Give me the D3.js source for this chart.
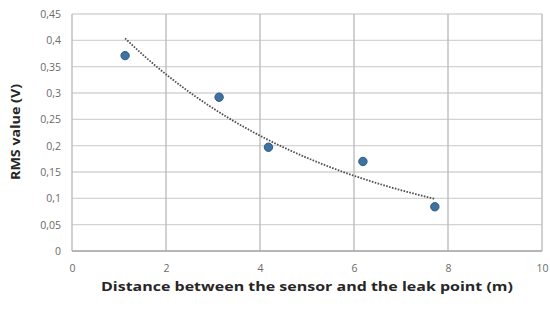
<!DOCTYPE html>
<html><head><meta charset="utf-8">
<script src="https://cdn.jsdelivr.net/npm/d3@7"></script>
<style>body{margin:0;background:#fff}svg{display:block}</style>
</head><body>
<script>
const distance = [1.13, 3.13, 4.18, 6.19, 7.72];
const rms = [0.371, 0.292, 0.197, 0.170, 0.084];
const xTicks = [0, 2, 4, 6, 8, 10];
const yTicks = [0, 0.05, 0.1, 0.15, 0.2, 0.25, 0.3, 0.35, 0.4, 0.45];
const xTitle = "Distance between the sensor and the leak point (m)";
const yTitle = "RMS value (V)";

const W = 550, H = 309;
const svg = d3.select("body").append("svg").attr("width", W).attr("height", H);
const x = d3.scaleLinear().domain([0, 10]).range([72, 542]);
const y = d3.scaleLinear().domain([0, 0.45]).range([251, 14]);
const fmt = d => String(d).replace(".", ",");

// grid
svg.append("g").selectAll("line").data(yTicks).join("line")
  .attr("x1", x(0)).attr("x2", x(10)).attr("y1", d => y(d)).attr("y2", d => y(d))
  .attr("stroke", "#d4d4d4").attr("stroke-width", 1.3);
svg.append("g").selectAll("line").data(xTicks).join("line")
  .attr("y1", y(0)).attr("y2", y(0.45)).attr("x1", d => x(d)).attr("x2", d => x(d))
  .attr("stroke", "#b8b8b8").attr("stroke-width", 1.3);
svg.append("line").attr("x1", x(0)).attr("x2", x(10)).attr("y1", y(0)).attr("y2", y(0))
  .attr("stroke", "#a8a8a8").attr("stroke-width", 1.3);

// axes labels via d3 axes
const yAxis = svg.append("g").attr("transform", `translate(${x(0)},0)`)
  .call(d3.axisLeft(y).tickValues(yTicks).tickFormat(fmt).tickSize(0).tickPadding(11));
yAxis.select(".domain").remove();
yAxis.selectAll("text").attr("font-family", "Open Sans, sans-serif").attr("font-size", 10.5).attr("fill", "#6a6a6a");
const xAxis = svg.append("g").attr("transform", `translate(0,${y(0)})`)
  .call(d3.axisBottom(x).tickValues(xTicks).tickFormat(fmt).tickSize(0).tickPadding(14));
xAxis.select(".domain").remove();
xAxis.selectAll("text").attr("font-family", "Open Sans, sans-serif").attr("font-size", 10.5).attr("fill", "#6a6a6a");

// exponential trendline (least squares on ln y)
const n = distance.length;
const lx = distance, ly = rms.map(Math.log);
const mx = d3.mean(lx), my = d3.mean(ly);
const b = d3.sum(lx.map((v, i) => (v - mx) * (ly[i] - my))) / d3.sum(lx.map(v => (v - mx) ** 2));
const a = Math.exp(my - b * mx);
const tx = d3.range(0, 101).map(i => distance[0] + (distance[n - 1] - distance[0]) * i / 100);
svg.append("path")
  .attr("d", d3.line().x(d => x(d)).y(d => y(a * Math.exp(b * d)))(tx))
  .attr("fill", "none").attr("stroke", "#505050").attr("stroke-width", 1.8)
  .attr("stroke-dasharray", "1.6,1.4");

// points
svg.append("g").selectAll("circle").data(distance).join("circle")
  .attr("cx", d => x(d)).attr("cy", (d, i) => y(rms[i])).attr("r", 4.2)
  .attr("fill", "#3f72a0").attr("stroke", "#2f5a84").attr("stroke-width", 1);

// titles
svg.append("text").attr("x", 307).attr("y", 291).attr("text-anchor", "middle")
  .attr("font-family", "Open Sans, sans-serif").attr("font-weight", "bold").attr("font-size", 12.5)
  .attr("fill", "#262626").attr("textLength", 412).attr("lengthAdjust", "spacingAndGlyphs").text(xTitle);
svg.append("text").attr("transform", "translate(20,132) rotate(-90)").attr("text-anchor", "middle")
  .attr("font-family", "Open Sans, sans-serif").attr("font-weight", "bold").attr("font-size", 12.5)
  .attr("fill", "#262626").attr("textLength", 96).attr("lengthAdjust", "spacingAndGlyphs").text(yTitle);
</script>
</body></html>
